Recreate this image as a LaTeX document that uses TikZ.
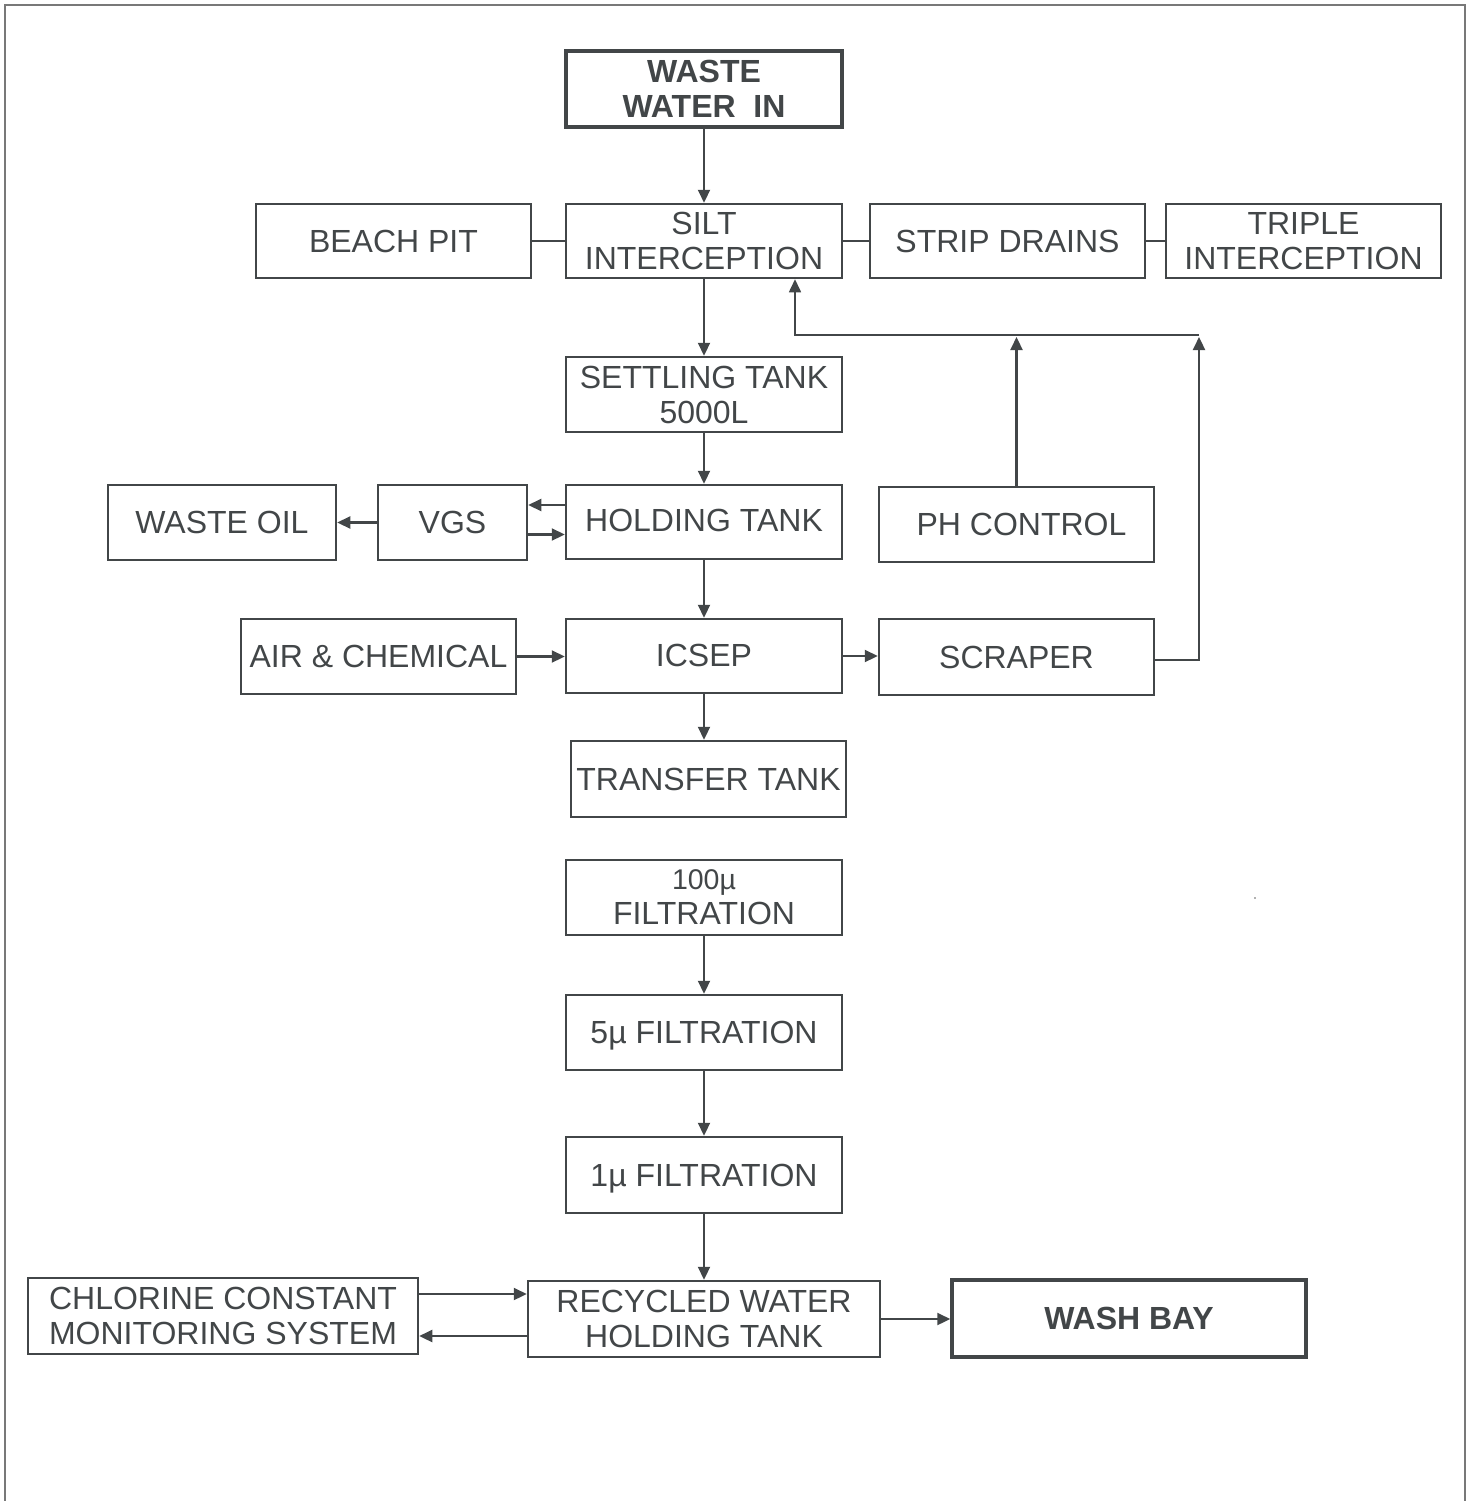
\documentclass[tikz,border=0pt]{standalone}
\usepackage{fontspec}
\setmainfont{Liberation Sans}
\usetikzlibrary{arrows.meta}
\definecolor{ink}{RGB}{66,70,72}
\definecolor{framecol}{RGB}{120,120,120}
\tikzset{
  box/.style={draw=ink, text=ink, line width=2.5pt, inner sep=0pt, align=center,
    font=\fontsize{32}{35}\selectfont},
  boldbox/.style={box, line width=3.5pt, font=\fontsize{32}{35}\selectfont\bfseries},
  arr/.style={draw=ink, line width=2.2pt, -{Triangle[length=13pt 0 0,width=12pt 0 0]}},
  link/.style={draw=ink, line width=2.2pt},
}
\begin{document}
\begin{tikzpicture}[x=1pt,y=-1pt]
\useasboundingbox (0,0) rectangle (1468,1501);
\draw[framecol, line width=1.5pt] (5,1501) -- (5,5) -- (1465,5) -- (1465,1501);

\node[boldbox, minimum width=276pt, minimum height=76pt] (wwi) at (704,89) {WASTE\\WATER~~IN};
\node[box, minimum width=276pt, minimum height=74pt] (silt) at (704,241) {SILT\\INTERCEPTION};
\node[box, minimum width=275pt, minimum height=74pt] (beach) at (393.5,241) {BEACH PIT};
\node[box, minimum width=275pt, minimum height=74pt] (strip) at (1007.5,241) {STRIP DRAINS};
\node[box, minimum width=275pt, minimum height=74pt] (triple) at (1303.5,241) {TRIPLE\\INTERCEPTION};
\node[box, minimum width=276pt, minimum height=75pt] (settle) at (704,394.5) {SETTLING TANK\\5000L};
\node[box, minimum width=276pt, minimum height=74pt] (hold) at (704,522) {\raisebox{3pt}{HOLDING TANK}};
\node[box, minimum width=149pt, minimum height=75pt] (vgs) at (452.5,522.5) {VGS};
\node[box, minimum width=228pt, minimum height=75pt] (oil) at (222,522.5) {WASTE OIL};
\node[box, minimum width=275pt, minimum height=75pt] (ph) at (1016.5,524.5) {\hspace*{10pt}PH CONTROL};
\node[box, minimum width=275pt, minimum height=75pt] (air) at (378.5,656.5) {AIR \& CHEMICAL};
\node[box, minimum width=276pt, minimum height=74pt] (icsep) at (704,656) {\raisebox{1pt}{ICSEP}};
\node[box, minimum width=275pt, minimum height=76pt] (scraper) at (1016.5,657) {SCRAPER};
\node[box, minimum width=275pt, minimum height=76pt] (transfer) at (708.5,779) {TRANSFER TANK};
\node[box, minimum width=276pt, minimum height=75pt] (f100) at (704,897.5) {{\fontsize{28.5}{33}\selectfont 100µ}\\FILTRATION};
\node[box, minimum width=276pt, minimum height=75pt, text depth=0pt] (f5) at (704,1032.5) {5µ FILTRATION};
\node[box, minimum width=276pt, minimum height=76pt, text depth=0pt] (f1) at (704,1175) {1µ FILTRATION};
\node[box, minimum width=352pt, minimum height=76pt] (recyc) at (704,1319) {RECYCLED WATER\\HOLDING TANK};
\node[box, minimum width=390pt, minimum height=76pt] (chlor) at (223,1316) {CHLORINE CONSTANT\\MONITORING SYSTEM};
\node[boldbox, minimum width=354pt, minimum height=77pt] (wash) at (1129,1318.5) {WASH BAY};

% main flow
\draw[arr] (wwi) -- (silt);
\draw[link] (beach) -- (silt);
\draw[link] (silt) -- (strip);
\draw[link] (strip) -- (triple);
\draw[arr] (silt) -- (settle);
\draw[arr] (settle) -- (hold);
\draw[arr] (hold) -- (icsep);
\draw[arr] (icsep.south) -- (icsep.south |- transfer.north);
\draw[arr] (f100) -- (f5);
\draw[arr] (f5) -- (f1);
\draw[arr] (f1) -- (recyc);

% return line
\coordinate (ret) at (1199,335);
\coordinate (retL) at (795,335);
\draw[arr, line width=1.6pt] (ret) -- (retL) -- (retL |- silt.south);
\draw[arr, shorten >=2pt] (ph.north) -- (ph.north |- ret);
\coordinate (sc) at ([yshift=-3pt]scraper.east);
\draw[arr, shorten >=2pt] (sc) -| (ret);

% holding <-> VGS
\coordinate (h1) at ([yshift=17pt]hold.west);
\coordinate (h2) at ([yshift=-12pt]vgs.east);
\draw[arr] (h1) -- (h1 -| vgs.east);
\draw[arr] (h2) -- (h2 -| hold.west);
\draw[arr] (vgs.west) -- (vgs.west -| oil.east);

% ICSEP side
\draw[arr] (air.east) -- (air.east -| icsep.west);
\draw[arr] (icsep.east) -- (icsep.east -| scraper.west);

% bottom
\coordinate (c1) at ([yshift=22pt]chlor.east);
\coordinate (c2) at ([yshift=-17pt]recyc.west);
\draw[arr] (c1) -- (c1 -| recyc.west);
\draw[arr] (c2) -- (c2 -| chlor.east);
\draw[arr] (recyc.east) -- (recyc.east -| wash.west);

\fill[gray!60] (1254,897) rectangle (1256,899);
\end{tikzpicture}
\end{document}
